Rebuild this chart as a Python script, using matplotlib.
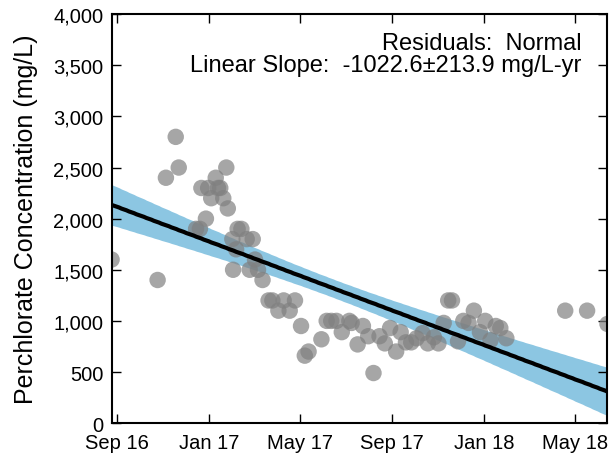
import matplotlib
matplotlib.use("Agg")
import matplotlib.pyplot as plt
import matplotlib.dates as mdates
import matplotlib.ticker as mticker
import numpy as np
import pandas as pd

# ============================================================
# Data
# ============================================================

sample_dates = [
    "2016-08-25", "2016-10-25", "2016-11-05", "2016-11-18", "2016-11-22",
    "2016-12-15", "2016-12-20", "2016-12-22", "2016-12-28", "2016-12-31",
    "2017-01-04", "2017-01-10", "2017-01-13", "2017-01-16", "2017-01-20",
    "2017-01-24", "2017-01-26", "2017-02-01", "2017-02-02", "2017-02-06",
    "2017-02-08", "2017-02-13", "2017-02-20", "2017-02-24", "2017-02-28",
    "2017-03-03", "2017-03-07", "2017-03-13", "2017-03-21", "2017-03-26",
    "2017-04-03", "2017-04-10", "2017-04-18", "2017-04-25", "2017-05-03",
    "2017-05-08", "2017-05-13", "2017-05-30", "2017-06-06", "2017-06-12",
    "2017-06-19", "2017-06-26", "2017-07-06", "2017-07-09", "2017-07-17",
    "2017-07-24", "2017-07-31", "2017-08-07", "2017-08-15", "2017-08-22",
    "2017-08-29", "2017-09-06", "2017-09-12", "2017-09-19", "2017-09-26",
    "2017-10-03", "2017-10-11", "2017-10-18", "2017-10-26", "2017-11-01",
    "2017-11-08", "2017-11-14", "2017-11-19", "2017-11-27", "2017-12-04",
    "2017-12-11", "2017-12-18", "2017-12-26", "2018-01-02", "2018-01-09",
    "2018-01-16", "2018-01-22", "2018-01-30", "2018-04-18", "2018-05-17",
    "2018-06-13",
]

concentration = [
    1600, 1400, 2400, 2800, 2500,
    1900, 1900, 2300, 2000, 2300,
    2200, 2400, 2300, 2300, 2200,
    2500, 2100, 1800, 1500, 1700,
    1900, 1900, 1800, 1500, 1800,
    1600, 1500, 1400, 1200, 1200,
    1100, 1200, 1100, 1200, 950,
    660, 700, 820, 1000, 1000,
    1000, 890, 1000, 980, 770,
    950, 850, 490, 850, 780,
    930, 700, 890, 790, 790,
    830, 880, 780, 840, 780,
    980, 1200, 1200, 800, 1000,
    980, 1100, 890, 1000, 810,
    950, 930, 830, 1100, 1100,
    970,
]

y_ticks = [0, 500, 1000, 1500, 2000, 2500, 3000, 3500, 4000]
annotation_lines = [
    "Residuals:  Normal",
    "Linear Slope:  -1022.6\u00b1213.9 mg/L-yr",
]

# ============================================================
# Linear fit with 95% confidence band
# ============================================================

dates = pd.to_datetime(sample_dates)
conc = np.array(concentration, dtype=float)
t_years = (dates - dates[0]).days.values / 365.25

n = len(conc)
slope, intercept = np.polyfit(t_years, conc, 1)
resid = conc - (intercept + slope * t_years)
s_err = np.sqrt(np.sum(resid**2) / (n - 2))
t_crit = 1.993  # t(0.975, n-2)
x_mean = t_years.mean()
sxx = np.sum((t_years - x_mean) ** 2)

grid_dates = pd.date_range(dates[0], dates[-1], periods=200)
grid_t = (grid_dates - dates[0]).days.values / 365.25
fit = intercept + slope * grid_t
half_width = t_crit * s_err * np.sqrt(1 / n + (grid_t - x_mean) ** 2 / sxx)

# ============================================================
# Figure
# ============================================================

plt.rcParams["font.family"] = ["Liberation Sans", "DejaVu Sans"]

fig, ax = plt.subplots(figsize=(6.13, 4.6), dpi=100)
plt.subplots_adjust(left=0.182, right=0.991, bottom=0.078, top=0.967)

ax.fill_between(grid_dates, fit - half_width, fit + half_width,
                color="#8CC6E2", lw=0, zorder=1)
ax.scatter(dates, conc, s=140, color="gray", alpha=0.7,
           edgecolors="none", zorder=2)
ax.plot(grid_dates, fit, color="black", lw=3, zorder=3)

ax.set_xlim(dates[0], dates[-1])
ax.set_ylim(0, 4000)
ax.set_yticks(y_ticks)
ax.yaxis.set_major_formatter(mticker.StrMethodFormatter("{x:,.0f}"))
ax.xaxis.set_major_locator(mdates.MonthLocator(bymonth=[1, 5, 9]))
ax.xaxis.set_major_formatter(mdates.DateFormatter("%b %y"))

ax.tick_params(direction="in", length=6.5, width=1, labelsize=14.5,
               top=True, right=True, pad=6)
ax.tick_params(axis="x", pad=7)
for spine in ax.spines.values():
    spine.set_linewidth(1.5)

ax.set_ylabel("Perchlorate Concentration (mg/L)", fontsize=18, labelpad=11)

ax.text(0.948, 0.914, annotation_lines[0], transform=ax.transAxes,
        ha="right", va="baseline", fontsize=17)
ax.text(0.948, 0.862, annotation_lines[1], transform=ax.transAxes,
        ha="right", va="baseline", fontsize=17)

fig.savefig("out.png", dpi=100)
